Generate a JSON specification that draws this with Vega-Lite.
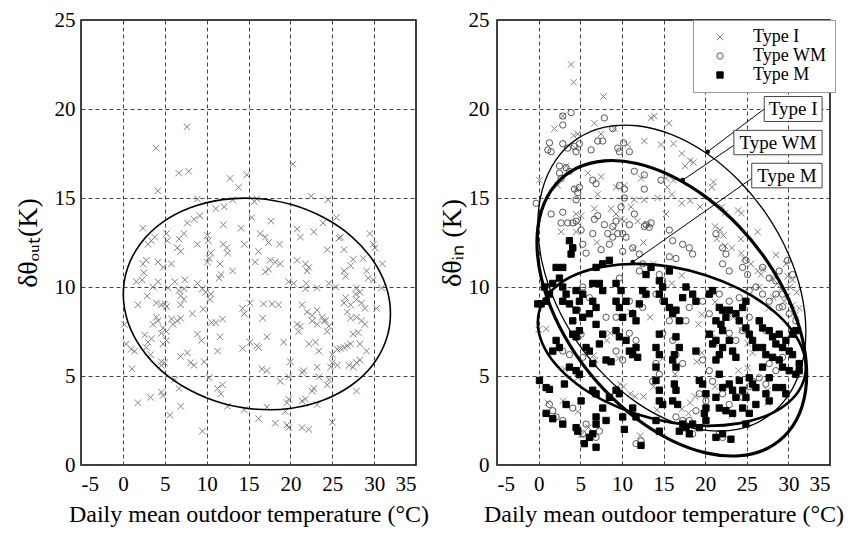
{
"$schema": "https://vega.github.io/schema/vega-lite/v6.json",
"padding": {"left": 13, "top": 8, "right": 5, "bottom": 5},
"background": "white",
"config": {
  "font": "Liberation Serif",
  "view": {"stroke": "black", "strokeWidth": 1.5},
  "axis": {"grid": true, "gridColor": "#444444", "gridDash": [4, 3], "gridWidth": 1, "ticks": false, "domain": false,
           "labelFont": "Liberation Serif", "labelFontSize": 21, "labelColor": "black",
           "titleFont": "Liberation Serif", "titleColor": "black", "titleFontWeight": "normal"},
  "axisX": {"labelPadding": 8, "titleFontSize": 24, "titlePadding": 8},
  "axisY": {"labelPadding": 6, "titleFontSize": 28},
  "legend": {"orient": "none", "legendX": 612, "legendY": 0, "strokeColor": "#999999", "fillColor": "white", "padding": 8,
             "labelFont": "Liberation Serif", "labelFontSize": 18, "labelColor": "black", "symbolStrokeWidth": 1,
             "symbolSize": 40, "rowPadding": 1, "labelOffset": 24, "symbolOffset": 10, "labelLimit": 200}
},
"datasets": {
  "left": [
    {"x":7.66,"y":19.0},{"x":3.97,"y":17.8},{"x":6.67,"y":16.4},{"x":7.86,"y":16.5},{"x":12.8,"y":16.1},{"x":13.8,"y":15.6},{"x":14.8,"y":16.3},{"x":4.17,"y":15.4},{"x":8.9,"y":14.95},{"x":13.1,"y":14.9},{"x":11.1,"y":14.4},{"x":12.1,"y":14.5},{"x":8.5,"y":13.8},{"x":7.7,"y":13.6},{"x":9.2,"y":14.0},{"x":2.4,"y":13.3},{"x":3.4,"y":12.6},{"x":3.0,"y":12.4},{"x":3.8,"y":12.8},{"x":5.2,"y":13.0},{"x":5.3,"y":12.6},{"x":6.7,"y":12.7},{"x":7.3,"y":13.0},{"x":6.5,"y":12.2},{"x":6.9,"y":12.0},{"x":8.9,"y":12.4},{"x":10.1,"y":12.9},{"x":10.2,"y":12.6},{"x":10.5,"y":11.9},{"x":12.0,"y":13.5},{"x":12.0,"y":12.4},{"x":12.4,"y":12.2},{"x":12.5,"y":11.9},{"x":14.1,"y":13.3},{"x":14.5,"y":12.4},{"x":2.8,"y":11.5},{"x":2.4,"y":11.3},{"x":4.2,"y":11.4},{"x":4.8,"y":11.1},{"x":5.8,"y":11.3},{"x":10.1,"y":11.4},{"x":10.3,"y":11.6},{"x":11.6,"y":11.3},{"x":11.7,"y":10.7},{"x":11.5,"y":10.5},{"x":13.1,"y":10.9},{"x":1.6,"y":10.3},{"x":2.3,"y":10.4},{"x":2.5,"y":10.8},{"x":4.2,"y":10.3},{"x":3.6,"y":10.0},{"x":5.4,"y":9.95},{"x":6.2,"y":10.3},{"x":6.7,"y":9.8},{"x":6.9,"y":9.5},{"x":7.3,"y":9.9},{"x":7.4,"y":10.4},{"x":8.9,"y":10.2},{"x":9.5,"y":9.9},{"x":9.9,"y":9.7},{"x":10.5,"y":9.6},{"x":10.4,"y":9.3},{"x":1.8,"y":9.0},{"x":2.9,"y":9.5},{"x":4.0,"y":9.1},{"x":4.6,"y":9.0},{"x":5.0,"y":9.05},{"x":5.2,"y":8.9},{"x":6.9,"y":9.0},{"x":7.3,"y":9.3},{"x":8.3,"y":8.5},{"x":9.6,"y":8.75},{"x":14.3,"y":8.8},{"x":14.5,"y":8.5},{"x":4.0,"y":8.3},{"x":3.6,"y":7.9},{"x":4.2,"y":8.1},{"x":4.8,"y":7.7},{"x":4.6,"y":7.4},{"x":5.2,"y":7.5},{"x":6.0,"y":7.9},{"x":6.5,"y":8.1},{"x":6.9,"y":8.25},{"x":2.6,"y":7.3},{"x":3.4,"y":7.1},{"x":3.0,"y":6.9},{"x":4.8,"y":6.8},{"x":5.2,"y":7.0},{"x":5.8,"y":8.2},{"x":10.6,"y":8.0},{"x":11.1,"y":8.0},{"x":11.9,"y":8.2},{"x":11.6,"y":7.2},{"x":8.9,"y":7.35},{"x":9.4,"y":7.0},{"x":0.2,"y":7.9},{"x":0.4,"y":6.8},{"x":1.0,"y":6.5},{"x":1.4,"y":6.4},{"x":2.8,"y":6.6},{"x":3.3,"y":6.2},{"x":4.6,"y":5.8},{"x":4.6,"y":5.6},{"x":5.0,"y":5.75},{"x":6.9,"y":6.1},{"x":7.7,"y":6.3},{"x":8.1,"y":5.75},{"x":8.5,"y":5.6},{"x":9.7,"y":5.8},{"x":11.3,"y":6.4},{"x":14.3,"y":6.55},{"x":1.1,"y":5.4},{"x":6.2,"y":4.8},{"x":6.7,"y":4.3},{"x":10.3,"y":4.9},{"x":11.3,"y":4.3},{"x":11.9,"y":4.5},{"x":11.7,"y":4.0},{"x":1.8,"y":3.5},{"x":3.3,"y":3.8},{"x":4.6,"y":4.1},{"x":4.8,"y":3.9},{"x":5.6,"y":2.8},{"x":6.9,"y":3.3},{"x":12.5,"y":3.3},{"x":14.5,"y":3.1},{"x":9.5,"y":1.9},
    {"x":20.3,"y":16.9},{"x":22.5,"y":15.1},{"x":24.5,"y":14.9},{"x":15.7,"y":14.8},{"x":16.0,"y":14.95},{"x":15.4,"y":13.9},{"x":17.7,"y":13.7},{"x":25.5,"y":13.9},{"x":16.4,"y":13.0},{"x":17.0,"y":12.8},{"x":17.4,"y":12.5},{"x":18.7,"y":12.4},{"x":20.8,"y":13.25},{"x":21.2,"y":12.8},{"x":22.8,"y":13.1},{"x":23.9,"y":13.6},{"x":25.8,"y":12.75},{"x":26.0,"y":12.8},{"x":24.4,"y":12.1},{"x":26.4,"y":12.1},{"x":29.5,"y":13.0},{"x":29.9,"y":12.4},{"x":30.1,"y":12.2},{"x":16.2,"y":12.0},{"x":15.8,"y":11.4},{"x":17.6,"y":11.5},{"x":18.2,"y":11.4},{"x":18.8,"y":11.3},{"x":17.4,"y":11.0},{"x":17.0,"y":10.85},{"x":20.8,"y":11.5},{"x":21.8,"y":11.3},{"x":22.0,"y":10.9},{"x":22.2,"y":11.1},{"x":26.4,"y":10.9},{"x":26.6,"y":10.6},{"x":27.5,"y":11.55},{"x":27.2,"y":11.2},{"x":28.7,"y":11.6},{"x":29.1,"y":10.9},{"x":29.3,"y":10.5},{"x":29.9,"y":10.4},{"x":31.0,"y":11.3},{"x":19.8,"y":10.3},{"x":20.4,"y":10.2},{"x":21.9,"y":10.2},{"x":21.8,"y":9.9},{"x":23.2,"y":9.95},{"x":24.6,"y":10.2},{"x":25.4,"y":10.0},{"x":27.9,"y":9.95},{"x":28.3,"y":9.7},{"x":30.9,"y":9.95},{"x":15.2,"y":9.1},{"x":16.8,"y":9.05},{"x":17.8,"y":9.05},{"x":18.6,"y":9.0},{"x":21.4,"y":9.0},{"x":22.0,"y":8.6},{"x":22.6,"y":8.4},{"x":23.2,"y":8.7},{"x":23.8,"y":8.3},{"x":24.2,"y":8.1},{"x":24.6,"y":7.8},{"x":26.6,"y":9.4},{"x":26.4,"y":9.1},{"x":27.2,"y":9.0},{"x":27.8,"y":9.6},{"x":27.9,"y":9.3},{"x":28.5,"y":9.1},{"x":28.9,"y":8.8},{"x":30.3,"y":8.8},{"x":16.7,"y":8.25},{"x":20.8,"y":7.9},{"x":21.2,"y":7.8},{"x":21.0,"y":7.5},{"x":22.6,"y":8.1},{"x":23.2,"y":7.9},{"x":24.0,"y":8.1},{"x":24.4,"y":7.5},{"x":26.8,"y":8.6},{"x":27.2,"y":8.25},{"x":27.9,"y":8.3},{"x":28.5,"y":8.1},{"x":28.9,"y":7.9},{"x":28.1,"y":7.45},{"x":27.5,"y":7.35},{"x":15.2,"y":6.9},{"x":16.2,"y":6.6},{"x":16.0,"y":6.7},{"x":17.2,"y":7.2},{"x":19.2,"y":6.9},{"x":22.2,"y":6.8},{"x":23.0,"y":6.9},{"x":23.4,"y":6.4},{"x":25.0,"y":6.2},{"x":25.6,"y":6.5},{"x":26.0,"y":6.55},{"x":26.4,"y":6.6},{"x":26.8,"y":6.7},{"x":27.2,"y":6.8},{"x":28.3,"y":6.8},{"x":29.1,"y":6.4},{"x":28.3,"y":5.9},{"x":27.9,"y":5.75},{"x":20.0,"y":5.8},{"x":25.0,"y":5.75},{"x":24.8,"y":5.5},{"x":25.6,"y":5.6},{"x":27.0,"y":5.6},{"x":27.5,"y":5.5},{"x":16.6,"y":5.4},{"x":17.2,"y":5.3},{"x":18.8,"y":4.7},{"x":19.8,"y":4.95},{"x":21.6,"y":5.3},{"x":21.4,"y":5.2},{"x":23.2,"y":5.5},{"x":23.4,"y":4.95},{"x":24.6,"y":4.8},{"x":24.4,"y":4.5},{"x":22.8,"y":4.3},{"x":22.6,"y":4.15},{"x":27.9,"y":4.15},{"x":19.8,"y":3.7},{"x":19.6,"y":3.5},{"x":21.4,"y":3.6},{"x":21.8,"y":3.7},{"x":23.2,"y":3.4},{"x":16.2,"y":2.6},{"x":18.2,"y":2.35},{"x":19.6,"y":2.25},{"x":19.8,"y":2.1},{"x":21.4,"y":2.1},{"x":22.2,"y":2.0},{"x":25.0,"y":2.4},{"x":19.4,"y":3.0},{"x":17.2,"y":3.25}
  ],
  "ellL": [
    {"i":0,"x":31.95,"y":8.50},{"i":1,"x":31.41,"y":10.05},{"i":2,"x":29.81,"y":11.53},{"i":3,"x":27.28,"y":12.85},{"i":4,"x":23.98,"y":13.90},{"i":5,"x":20.13,"y":14.63},{"i":6,"x":16.0,"y":14.97},{"i":7,"x":11.87,"y":14.91},{"i":8,"x":8.03,"y":14.45},{"i":9,"x":4.72,"y":13.63},{"i":10,"x":2.19,"y":12.49},{"i":11,"x":0.59,"y":11.11},{"i":12,"x":0.05,"y":9.60},{"i":13,"x":0.59,"y":8.05},{"i":14,"x":2.19,"y":6.57},{"i":15,"x":4.72,"y":5.25},{"i":16,"x":8.03,"y":4.20},{"i":17,"x":11.87,"y":3.47},{"i":18,"x":16.0,"y":3.13},{"i":19,"x":20.13,"y":3.19},{"i":20,"x":23.98,"y":3.65},{"i":21,"x":27.28,"y":4.48},{"i":22,"x":29.81,"y":5.61},{"i":23,"x":31.41,"y":6.99}
  ],
  "eI": [
    {"i":0,"x":32.1,"y":7.5},{"i":1,"x":31.55,"y":9.69},{"i":2,"x":29.94,"y":11.93},{"i":3,"x":27.38,"y":14.08},{"i":4,"x":24.05,"y":15.98},{"i":5,"x":20.17,"y":17.51},{"i":6,"x":16.0,"y":18.56},{"i":7,"x":11.83,"y":19.06},{"i":8,"x":7.95,"y":18.98},{"i":9,"x":4.62,"y":18.32},{"i":10,"x":2.06,"y":17.13},{"i":11,"x":0.45,"y":15.48},{"i":12,"x":-0.1,"y":13.5},{"i":13,"x":0.45,"y":11.31},{"i":14,"x":2.06,"y":9.07},{"i":15,"x":4.62,"y":6.92},{"i":16,"x":7.95,"y":5.02},{"i":17,"x":11.83,"y":3.49},{"i":18,"x":16.0,"y":2.44},{"i":19,"x":20.17,"y":1.94},{"i":20,"x":24.05,"y":2.02},{"i":21,"x":27.38,"y":2.68},{"i":22,"x":29.94,"y":3.87},{"i":23,"x":31.55,"y":5.52}
  ],
  "eWM": [
    {"i":0,"x":32.2,"y":5.1},{"i":1,"x":31.65,"y":7.15},{"i":2,"x":30.03,"y":9.31},{"i":3,"x":27.46,"y":11.44},{"i":4,"x":24.1,"y":13.39},{"i":5,"x":20.19,"y":15.02},{"i":6,"x":16.0,"y":16.23},{"i":7,"x":11.81,"y":16.94},{"i":8,"x":7.9,"y":17.09},{"i":9,"x":4.54,"y":16.67},{"i":10,"x":1.97,"y":15.72},{"i":11,"x":0.35,"y":14.30},{"i":12,"x":-0.2,"y":12.5},{"i":13,"x":0.35,"y":10.45},{"i":14,"x":1.97,"y":8.29},{"i":15,"x":4.54,"y":6.16},{"i":16,"x":7.9,"y":4.22},{"i":17,"x":11.81,"y":2.58},{"i":18,"x":16.0,"y":1.37},{"i":19,"x":20.19,"y":0.67},{"i":20,"x":24.1,"y":0.52},{"i":21,"x":27.46,"y":0.93},{"i":22,"x":30.03,"y":1.88},{"i":23,"x":31.65,"y":3.30}
  ],
  "eM": [
    {"i":0,"x":32.1,"y":5.5},{"i":1,"x":31.55,"y":6.67},{"i":2,"x":29.94,"y":7.86},{"i":3,"x":27.38,"y":8.96},{"i":4,"x":24.05,"y":9.91},{"i":5,"x":20.17,"y":10.65},{"i":6,"x":16.0,"y":11.13},{"i":7,"x":11.83,"y":11.30},{"i":8,"x":7.95,"y":11.16},{"i":9,"x":4.62,"y":10.73},{"i":10,"x":2.06,"y":10.02},{"i":11,"x":0.45,"y":9.09},{"i":12,"x":-0.1,"y":8.0},{"i":13,"x":0.45,"y":6.83},{"i":14,"x":2.06,"y":5.65},{"i":15,"x":4.62,"y":4.54},{"i":16,"x":7.95,"y":3.59},{"i":17,"x":11.83,"y":2.85},{"i":18,"x":16.0,"y":2.38},{"i":19,"x":20.17,"y":2.20},{"i":20,"x":24.05,"y":2.34},{"i":21,"x":27.38,"y":2.77},{"i":22,"x":29.94,"y":3.48},{"i":23,"x":31.55,"y":4.41}
  ],
  "leaders": [
    {"x":27.1,"y":20.0,"ex":20.3,"ey":17.6},
    {"x":23.45,"y":17.96,"ex":17.3,"ey":16.0},
    {"x":25.6,"y":16.1,"ex":11.3,"ey":11.4}
  ],
  "boxes": [
    {"lab":"Type I","x1":27.1,"x2":34.05,"y1":19.3,"y2":20.7,"cx":30.58,"cy":20.0},
    {"lab":"Type WM","x1":23.45,"x2":34.05,"y1":17.43,"y2":18.8,"cx":28.75,"cy":18.1},
    {"lab":"Type M","x1":25.6,"x2":34.05,"y1":15.57,"y2":16.95,"cx":29.83,"cy":16.26}
  ],
  "right": [
    {"g":"Type I","x":3.9,"y":22.5},{"g":"Type I","x":4.2,"y":21.5},{"g":"Type I","x":7.8,"y":20.7},{"g":"Type I","x":2.9,"y":19.6},{"g":"Type I","x":1.9,"y":18.9},{"g":"Type I","x":4.7,"y":18.6},{"g":"Type I","x":4.2,"y":18.5},{"g":"Type I","x":6.7,"y":19.2},{"g":"Type I","x":9.1,"y":18.9},{"g":"Type I","x":12.7,"y":18.2},{"g":"Type I","x":13.5,"y":19.5},{"g":"Type I","x":13.9,"y":19.6},{"g":"Type I","x":14.7,"y":18.0},{"g":"Type I","x":7.5,"y":18.6},{"g":"Type I","x":10.7,"y":18.0},{"g":"Type I","x":4.4,"y":17.8},{"g":"Type I","x":0.1,"y":16.0},{"g":"Type I","x":3.3,"y":16.8},{"g":"Type I","x":5.9,"y":16.4},{"g":"Type I","x":7.5,"y":16.2},{"g":"Type I","x":2.3,"y":15.7},{"g":"Type I","x":4.5,"y":15.5},{"g":"Type I","x":7.1,"y":15.2},{"g":"Type I","x":9.3,"y":15.6},{"g":"Type I","x":10.3,"y":15.7},{"g":"Type I","x":12.3,"y":16.1},{"g":"Type I","x":12.7,"y":14.9},{"g":"Type I","x":11.5,"y":14.9},{"g":"Type I","x":14.3,"y":15.0},{"g":"Type I","x":4.5,"y":14.1},{"g":"Type I","x":5.1,"y":14.0},{"g":"Type I","x":6.7,"y":14.4},{"g":"Type I","x":8.7,"y":14.4},{"g":"Type I","x":9.3,"y":14.1},{"g":"Type I","x":9.9,"y":13.8},{"g":"Type I","x":10.3,"y":13.7},{"g":"Type I","x":11.1,"y":14.5},{"g":"Type I","x":11.9,"y":13.7},{"g":"Type I","x":2.7,"y":13.1},{"g":"Type I","x":4.5,"y":13.1},{"g":"Type I","x":9.1,"y":13.3},{"g":"Type I","x":13.1,"y":13.5},{"g":"Type I","x":4.7,"y":13.6},{"g":"Type I","x":15.3,"y":14.1},
    {"g":"Type I","x":15.65,"y":19.2},{"g":"Type I","x":16.2,"y":18.05},{"g":"Type I","x":17.2,"y":17.5},{"g":"Type I","x":18.2,"y":17.1},{"g":"Type I","x":18.6,"y":17.0},{"g":"Type I","x":17.6,"y":16.8},{"g":"Type I","x":15.3,"y":16.1},{"g":"Type I","x":16.2,"y":16.0},{"g":"Type I","x":16.0,"y":15.2},{"g":"Type I","x":15.45,"y":15.6},{"g":"Type I","x":18.2,"y":14.85},{"g":"Type I","x":17.2,"y":14.7},{"g":"Type I","x":21.0,"y":15.9},{"g":"Type I","x":20.8,"y":15.6},{"g":"Type I","x":19.4,"y":14.5},{"g":"Type I","x":22.0,"y":14.5},{"g":"Type I","x":22.4,"y":14.15},{"g":"Type I","x":23.95,"y":14.3},{"g":"Type I","x":24.35,"y":14.15},{"g":"Type I","x":21.2,"y":13.4},{"g":"Type I","x":21.8,"y":13.2},{"g":"Type I","x":22.2,"y":12.9},{"g":"Type I","x":26.3,"y":13.1},{"g":"Type I","x":21.4,"y":12.7},{"g":"Type I","x":24.3,"y":12.7},
    {"g":"Type I","x":22.4,"y":12.3},{"g":"Type I","x":23.2,"y":12.2},{"g":"Type I","x":24.35,"y":11.9},{"g":"Type I","x":24.7,"y":11.6},{"g":"Type I","x":25.5,"y":11.3},{"g":"Type I","x":26.3,"y":10.9},{"g":"Type I","x":26.7,"y":10.7},{"g":"Type I","x":28.5,"y":11.8},{"g":"Type I","x":29.7,"y":11.3},{"g":"Type I","x":29.9,"y":10.6},{"g":"Type I","x":28.7,"y":10.2},{"g":"Type I","x":29.1,"y":9.9},{"g":"Type I","x":29.9,"y":9.5},{"g":"Type I","x":30.5,"y":8.98},{"g":"Type I","x":30.9,"y":8.45},{"g":"Type I","x":20.8,"y":9.7},{"g":"Type I","x":21.2,"y":9.15},{"g":"Type I","x":21.8,"y":8.9},{"g":"Type I","x":22.8,"y":8.45},{"g":"Type I","x":23.4,"y":8.3},{"g":"Type I","x":19.6,"y":8.45},{"g":"Type I","x":19.2,"y":7.9},{"g":"Type I","x":17.2,"y":10.65},{"g":"Type I","x":16.0,"y":10.2},{"g":"Type I","x":24.35,"y":7.6},{"g":"Type I","x":25.1,"y":6.85},{"g":"Type I","x":25.7,"y":6.3},{"g":"Type I","x":20.8,"y":7.4},{"g":"Type I","x":21.2,"y":6.85},{"g":"Type I","x":19.6,"y":6.3},{"g":"Type I","x":19.0,"y":5.8},{"g":"Type I","x":24.0,"y":5.3},{"g":"Type I","x":25.1,"y":5.45},{"g":"Type I","x":25.9,"y":4.6},{"g":"Type I","x":21.2,"y":4.4},{"g":"Type I","x":22.6,"y":4.4},{"g":"Type I","x":18.8,"y":3.85},{"g":"Type I","x":18.2,"y":3.5},{"g":"Type I","x":17.2,"y":3.15},{"g":"Type I","x":18.0,"y":2.9},{"g":"Type I","x":23.2,"y":2.8},{"g":"Type I","x":27.5,"y":4.2},{"g":"Type I","x":27.5,"y":3.5},{"g":"Type I","x":16.4,"y":5.1},{"g":"Type I","x":14.9,"y":6.0},
    {"g":"Type I","x":0.9,"y":7.65},{"g":"Type I","x":3.1,"y":5.4},{"g":"Type I","x":4.7,"y":4.9},{"g":"Type I","x":6.6,"y":6.15},{"g":"Type I","x":6.8,"y":5.9},{"g":"Type I","x":8.6,"y":7.4},{"g":"Type I","x":9.6,"y":6.0},{"g":"Type I","x":9.8,"y":4.55},{"g":"Type I","x":10.2,"y":4.4},{"g":"Type I","x":11.0,"y":4.0},{"g":"Type I","x":11.6,"y":3.85},{"g":"Type I","x":1.1,"y":3.5},{"g":"Type I","x":2.9,"y":3.6},{"g":"Type I","x":4.7,"y":3.0},{"g":"Type I","x":5.1,"y":1.7},{"g":"Type I","x":6.0,"y":2.1},{"g":"Type I","x":7.0,"y":2.3},{"g":"Type I","x":12.6,"y":3.85},{"g":"Type I","x":13.8,"y":4.4},{"g":"Type I","x":14.2,"y":3.1},{"g":"Type I","x":12.2,"y":1.65},{"g":"Type I","x":9.8,"y":8.3},{"g":"Type I","x":11.0,"y":8.6},{"g":"Type I","x":13.4,"y":8.3},{"g":"Type I","x":8.2,"y":7.0},{"g":"Type I","x":12.6,"y":9.5},{"g":"Type I","x":13.8,"y":11.3},{"g":"Type I","x":7.0,"y":12.5},{"g":"Type I","x":11.4,"y":12.15},{"g":"Type I","x":12.6,"y":12.5},{"g":"Type I","x":0.0,"y":7.6},{"g":"Type I","x":27.0,"y":11.0},{"g":"Type I","x":28.0,"y":10.5},{"g":"Type I","x":26.5,"y":10.0},{"g":"Type I","x":30.5,"y":10.4},{"g":"Type I","x":31.0,"y":9.7},{"g":"Type I","x":29.5,"y":9.2},{"g":"Type I","x":28.2,"y":9.4},{"g":"Type I","x":27.6,"y":8.8},{"g":"Type I","x":30.2,"y":10.0},{"g":"Type I","x":31.3,"y":8.8},
    {"g":"Type WM","x":2.9,"y":19.1},{"g":"Type WM","x":2.9,"y":19.6},{"g":"Type WM","x":3.9,"y":19.8},{"g":"Type WM","x":1.3,"y":18.1},{"g":"Type WM","x":1.5,"y":17.6},{"g":"Type WM","x":1.1,"y":17.7},{"g":"Type WM","x":2.9,"y":18.05},{"g":"Type WM","x":3.5,"y":17.8},{"g":"Type WM","x":4.9,"y":18.05},{"g":"Type WM","x":4.5,"y":17.6},{"g":"Type WM","x":4.3,"y":17.9},{"g":"Type WM","x":7.1,"y":18.2},{"g":"Type WM","x":7.7,"y":18.2},{"g":"Type WM","x":7.9,"y":19.5},{"g":"Type WM","x":8.9,"y":18.9},{"g":"Type WM","x":9.5,"y":17.8},{"g":"Type WM","x":9.7,"y":17.6},{"g":"Type WM","x":10.9,"y":17.6},{"g":"Type WM","x":10.2,"y":18.1},{"g":"Type WM","x":6.3,"y":17.7},{"g":"Type WM","x":2.5,"y":16.8},{"g":"Type WM","x":3.3,"y":16.7},{"g":"Type WM","x":3.7,"y":16.5},{"g":"Type WM","x":2.5,"y":16.4},{"g":"Type WM","x":2.7,"y":16.1},{"g":"Type WM","x":4.3,"y":15.5},{"g":"Type WM","x":4.9,"y":15.6},{"g":"Type WM","x":4.7,"y":15.3},{"g":"Type WM","x":6.5,"y":16.0},{"g":"Type WM","x":6.9,"y":15.8},{"g":"Type WM","x":4.5,"y":14.9},{"g":"Type WM","x":9.7,"y":15.7},{"g":"Type WM","x":10.3,"y":15.5},{"g":"Type WM","x":11.5,"y":16.5},{"g":"Type WM","x":12.7,"y":16.3},{"g":"Type WM","x":12.7,"y":15.5},{"g":"Type WM","x":14.7,"y":16.0},{"g":"Type WM","x":9.9,"y":14.5},{"g":"Type WM","x":10.3,"y":15.0},{"g":"Type WM","x":6.7,"y":13.8},{"g":"Type WM","x":7.1,"y":14.0},{"g":"Type WM","x":2.9,"y":14.2},{"g":"Type WM","x":2.7,"y":13.6},{"g":"Type WM","x":3.5,"y":13.6},{"g":"Type WM","x":4.1,"y":13.6},{"g":"Type WM","x":4.5,"y":13.7},{"g":"Type WM","x":7.9,"y":13.5},{"g":"Type WM","x":8.9,"y":13.4},{"g":"Type WM","x":9.3,"y":13.7},{"g":"Type WM","x":10.9,"y":13.5},{"g":"Type WM","x":11.5,"y":14.1},{"g":"Type WM","x":12.7,"y":13.4},{"g":"Type WM","x":13.5,"y":13.6},{"g":"Type WM","x":8.3,"y":13.0},{"g":"Type WM","x":8.9,"y":12.8},{"g":"Type WM","x":10.5,"y":12.8},{"g":"Type WM","x":1.5,"y":14.1},{"g":"Type WM","x":-0.3,"y":14.7},
    {"g":"Type WM","x":5.1,"y":13.2},{"g":"Type WM","x":6.5,"y":13.0},{"g":"Type WM","x":4.1,"y":12.2},{"g":"Type WM","x":5.3,"y":12.4},{"g":"Type WM","x":5.7,"y":11.9},{"g":"Type WM","x":7.5,"y":12.1},{"g":"Type WM","x":8.5,"y":12.4},{"g":"Type WM","x":9.5,"y":13.0},{"g":"Type WM","x":10.1,"y":13.0},{"g":"Type WM","x":10.1,"y":12.0},{"g":"Type WM","x":11.3,"y":12.2},{"g":"Type WM","x":12.1,"y":11.85},{"g":"Type WM","x":12.9,"y":13.5},{"g":"Type WM","x":13.3,"y":13.35},{"g":"Type WM","x":15.7,"y":13.2},{"g":"Type WM","x":16.1,"y":12.6},{"g":"Type WM","x":17.3,"y":12.4},{"g":"Type WM","x":18.1,"y":12.2},{"g":"Type WM","x":15.7,"y":11.7},{"g":"Type WM","x":16.5,"y":11.6},{"g":"Type WM","x":18.5,"y":11.85},{"g":"Type WM","x":12.5,"y":11.3},{"g":"Type WM","x":12.1,"y":10.9},{"g":"Type WM","x":14.5,"y":10.7},{"g":"Type WM","x":14.9,"y":10.35},{"g":"Type WM","x":21.3,"y":13.0},{"g":"Type WM","x":22.1,"y":12.2},{"g":"Type WM","x":22.5,"y":11.85},{"g":"Type WM","x":22.1,"y":11.3},{"g":"Type WM","x":22.9,"y":10.9},{"g":"Type WM","x":24.9,"y":11.5},{"g":"Type WM","x":25.1,"y":10.7},{"g":"Type WM","x":24.5,"y":11.1},{"g":"Type WM","x":26.9,"y":11.1},{"g":"Type WM","x":27.7,"y":10.5},{"g":"Type WM","x":28.5,"y":10.35},{"g":"Type WM","x":28.9,"y":10.9},{"g":"Type WM","x":29.9,"y":11.5},{"g":"Type WM","x":30.5,"y":10.7},{"g":"Type WM","x":26.1,"y":10.0},{"g":"Type WM","x":26.9,"y":9.6},{"g":"Type WM","x":27.7,"y":9.2},{"g":"Type WM","x":28.5,"y":9.6},{"g":"Type WM","x":29.3,"y":8.9},{"g":"Type WM","x":30.1,"y":8.5},{"g":"Type WM","x":30.9,"y":8.1},{"g":"Type WM","x":21.7,"y":9.6},{"g":"Type WM","x":22.9,"y":9.2},{"g":"Type WM","x":24.1,"y":9.4},{"g":"Type WM","x":25.3,"y":9.8},{"g":"Type WM","x":19.7,"y":9.2},{"g":"Type WM","x":20.5,"y":8.5},{"g":"Type WM","x":18.1,"y":8.85},{"g":"Type WM","x":17.7,"y":8.1},{"g":"Type WM","x":15.7,"y":8.1},{"g":"Type WM","x":14.9,"y":7.4},{"g":"Type WM","x":16.1,"y":7.0},{"g":"Type WM","x":14.1,"y":5.7},{"g":"Type WM","x":14.5,"y":5.1},{"g":"Type WM","x":13.7,"y":4.7},{"g":"Type WM","x":16.5,"y":6.2},{"g":"Type WM","x":17.3,"y":5.7},{"g":"Type WM","x":19.7,"y":5.9},{"g":"Type WM","x":20.5,"y":5.3},{"g":"Type WM","x":20.9,"y":4.7},{"g":"Type WM","x":19.3,"y":4.0},{"g":"Type WM","x":20.1,"y":3.6},{"g":"Type WM","x":18.9,"y":3.05},{"g":"Type WM","x":18.1,"y":2.5},{"g":"Type WM","x":18.5,"y":1.75},{"g":"Type WM","x":16.5,"y":2.7},{"g":"Type WM","x":17.3,"y":2.5},{"g":"Type WM","x":22.1,"y":4.0},{"g":"Type WM","x":22.9,"y":3.4},{"g":"Type WM","x":24.5,"y":3.8},{"g":"Type WM","x":25.3,"y":4.4},{"g":"Type WM","x":25.7,"y":4.7},{"g":"Type WM","x":26.5,"y":4.9},{"g":"Type WM","x":27.3,"y":4.55},{"g":"Type WM","x":27.7,"y":5.7},{"g":"Type WM","x":28.5,"y":5.3},{"g":"Type WM","x":29.3,"y":6.05},{"g":"Type WM","x":22.9,"y":7.4},{"g":"Type WM","x":23.7,"y":7.0},{"g":"Type WM","x":24.5,"y":7.55},{"g":"Type WM","x":25.3,"y":8.3},{"g":"Type WM","x":26.5,"y":8.1},{"g":"Type WM","x":27.3,"y":7.55},{"g":"Type WM","x":21.7,"y":1.75},{"g":"Type WM","x":22.1,"y":1.55},{"g":"Type WM","x":11.7,"y":1.2},{"g":"Type WM","x":12.3,"y":1.35},{"g":"Type WM","x":7.3,"y":1.9},{"g":"Type WM","x":6.9,"y":1.55},{"g":"Type WM","x":5.3,"y":1.75},{"g":"Type WM","x":5.7,"y":2.3},{"g":"Type WM","x":1.7,"y":3.05},{"g":"Type WM","x":2.1,"y":2.7},{"g":"Type WM","x":2.9,"y":2.5},{"g":"Type WM","x":1.3,"y":3.4},{"g":"Type WM","x":4.1,"y":3.2},{"g":"Type WM","x":5.3,"y":6.05},{"g":"Type WM","x":5.1,"y":7.35},{"g":"Type WM","x":8.1,"y":8.3},{"g":"Type WM","x":9.3,"y":8.3},{"g":"Type WM","x":10.9,"y":7.4},{"g":"Type WM","x":11.7,"y":7.0},{"g":"Type WM","x":9.3,"y":6.4},{"g":"Type WM","x":10.1,"y":5.9},{"g":"Type WM","x":10.9,"y":9.2},{"g":"Type WM","x":12.5,"y":8.85},{"g":"Type WM","x":14.1,"y":9.6},{"g":"Type WM","x":14.9,"y":9.2},{"g":"Type WM","x":9.7,"y":10.5},{"g":"Type WM","x":7.7,"y":9.8},{"g":"Type WM","x":5.3,"y":10.0},{"g":"Type WM","x":6.1,"y":9.4},{"g":"Type WM","x":2.9,"y":6.4},{"g":"Type WM","x":3.7,"y":6.2},{"g":"Type WM","x":28.9,"y":8.85},{"g":"Type WM","x":29.3,"y":9.6},
    {"g":"Type M","x":3.7,"y":12.6},{"g":"Type M","x":4.1,"y":12.2},{"g":"Type M","x":3.9,"y":11.85},{"g":"Type M","x":2.1,"y":11.1},{"g":"Type M","x":2.9,"y":11.1},{"g":"Type M","x":2.5,"y":10.5},{"g":"Type M","x":1.7,"y":10.2},{"g":"Type M","x":0.7,"y":10.0},{"g":"Type M","x":1.3,"y":9.6},{"g":"Type M","x":0.9,"y":9.2},{"g":"Type M","x":0.3,"y":9.05},{"g":"Type M","x":-0.1,"y":9.05},{"g":"Type M","x":2.9,"y":10.0},{"g":"Type M","x":3.3,"y":9.6},{"g":"Type M","x":2.9,"y":9.2},{"g":"Type M","x":3.7,"y":9.05},{"g":"Type M","x":4.5,"y":9.8},{"g":"Type M","x":5.3,"y":9.6},{"g":"Type M","x":4.9,"y":9.2},{"g":"Type M","x":4.5,"y":8.7},{"g":"Type M","x":5.3,"y":8.3},{"g":"Type M","x":4.1,"y":8.1},{"g":"Type M","x":4.9,"y":7.55},{"g":"Type M","x":4.1,"y":7.35},{"g":"Type M","x":4.5,"y":7.2},{"g":"Type M","x":2.1,"y":7.0},{"g":"Type M","x":2.5,"y":6.6},{"g":"Type M","x":1.7,"y":6.4},{"g":"Type M","x":5.7,"y":6.6},{"g":"Type M","x":6.1,"y":6.4},{"g":"Type M","x":3.7,"y":5.5},{"g":"Type M","x":4.5,"y":5.3},{"g":"Type M","x":4.9,"y":5.1},{"g":"Type M","x":0.1,"y":4.75},{"g":"Type M","x":0.9,"y":4.35},{"g":"Type M","x":1.3,"y":4.25},{"g":"Type M","x":3.1,"y":4.55},{"g":"Type M","x":0.9,"y":2.9},{"g":"Type M","x":1.7,"y":2.6},{"g":"Type M","x":2.9,"y":2.3},{"g":"Type M","x":3.3,"y":3.4},{"g":"Type M","x":5.1,"y":3.6},{"g":"Type M","x":4.5,"y":2.1},{"g":"Type M","x":4.7,"y":1.9},{"g":"Type M","x":5.5,"y":1.2},{"g":"Type M","x":6.1,"y":1.55},{"g":"Type M","x":6.5,"y":1.75},{"g":"Type M","x":6.9,"y":1.0},{"g":"Type M","x":6.9,"y":2.3},{"g":"Type M","x":6.9,"y":2.7},{"g":"Type M","x":6.5,"y":4.2},{"g":"Type M","x":6.9,"y":4.0},{"g":"Type M","x":7.7,"y":3.2},{"g":"Type M","x":8.1,"y":2.5},{"g":"Type M","x":8.5,"y":3.8},{"g":"Type M","x":9.3,"y":4.2},{"g":"Type M","x":9.7,"y":4.0},{"g":"Type M","x":10.1,"y":2.7},{"g":"Type M","x":10.3,"y":2.0},{"g":"Type M","x":11.3,"y":3.2},{"g":"Type M","x":11.7,"y":2.7},{"g":"Type M","x":12.3,"y":1.1},{"g":"Type M","x":6.9,"y":11.1},{"g":"Type M","x":7.7,"y":11.3},{"g":"Type M","x":8.5,"y":11.5},{"g":"Type M","x":6.5,"y":10.2},{"g":"Type M","x":7.3,"y":10.2},{"g":"Type M","x":7.7,"y":9.8},{"g":"Type M","x":6.5,"y":9.2},{"g":"Type M","x":6.9,"y":8.85},{"g":"Type M","x":6.1,"y":8.5},{"g":"Type M","x":6.9,"y":7.9},{"g":"Type M","x":7.7,"y":7.35},{"g":"Type M","x":7.3,"y":6.8},{"g":"Type M","x":6.5,"y":5.7},{"g":"Type M","x":8.1,"y":5.9},{"g":"Type M","x":8.7,"y":5.8},{"g":"Type M","x":9.3,"y":10.2},{"g":"Type M","x":9.9,"y":9.8},{"g":"Type M","x":10.5,"y":9.2},{"g":"Type M","x":9.3,"y":9.2},{"g":"Type M","x":9.7,"y":8.85},{"g":"Type M","x":10.1,"y":8.3},{"g":"Type M","x":9.3,"y":7.55},{"g":"Type M","x":9.7,"y":7.2},{"g":"Type M","x":10.5,"y":7.0},{"g":"Type M","x":10.9,"y":6.4},{"g":"Type M","x":11.3,"y":6.2},{"g":"Type M","x":11.7,"y":6.6},{"g":"Type M","x":11.9,"y":6.05},{"g":"Type M","x":11.3,"y":8.5},{"g":"Type M","x":11.7,"y":8.1},{"g":"Type M","x":12.1,"y":9.05},{"g":"Type M","x":12.9,"y":10.7},{"g":"Type M","x":13.5,"y":11.1},{"g":"Type M","x":12.5,"y":9.8},{"g":"Type M","x":12.9,"y":9.6},{"g":"Type M","x":14.5,"y":10.35},{"g":"Type M","x":14.9,"y":10.0},{"g":"Type M","x":15.7,"y":10.9},{"g":"Type M","x":14.5,"y":9.6},{"g":"Type M","x":15.1,"y":9.2},{"g":"Type M","x":15.7,"y":8.85},{"g":"Type M","x":16.1,"y":8.5},{"g":"Type M","x":16.5,"y":8.7},{"g":"Type M","x":16.9,"y":8.1},{"g":"Type M","x":17.3,"y":9.4},{"g":"Type M","x":17.7,"y":10.0},{"g":"Type M","x":18.5,"y":9.6},{"g":"Type M","x":18.9,"y":9.2},{"g":"Type M","x":14.5,"y":7.35},{"g":"Type M","x":14.1,"y":6.6},{"g":"Type M","x":14.5,"y":6.2},{"g":"Type M","x":14.1,"y":5.5},{"g":"Type M","x":14.1,"y":4.75},{"g":"Type M","x":14.5,"y":4.2},{"g":"Type M","x":14.5,"y":3.6},{"g":"Type M","x":14.9,"y":3.4},{"g":"Type M","x":14.1,"y":2.5},{"g":"Type M","x":14.5,"y":1.9},{"g":"Type M","x":16.5,"y":7.2},{"g":"Type M","x":16.9,"y":6.6},{"g":"Type M","x":16.3,"y":6.2},{"g":"Type M","x":16.1,"y":5.9},{"g":"Type M","x":16.5,"y":5.5},{"g":"Type M","x":16.3,"y":4.55},{"g":"Type M","x":16.5,"y":4.2},{"g":"Type M","x":16.1,"y":3.6},{"g":"Type M","x":16.7,"y":3.4},{"g":"Type M","x":17.3,"y":2.3},{"g":"Type M","x":17.7,"y":2.1},{"g":"Type M","x":18.5,"y":2.3},{"g":"Type M","x":19.3,"y":2.1},{"g":"Type M","x":20.1,"y":2.5},{"g":"Type M","x":18.1,"y":1.75},{"g":"Type M","x":16.9,"y":1.9},{"g":"Type M","x":19.3,"y":4.75},{"g":"Type M","x":19.7,"y":4.55},{"g":"Type M","x":20.1,"y":4.0},{"g":"Type M","x":18.9,"y":6.4},{"g":"Type M","x":20.5,"y":7.35},{"g":"Type M","x":20.9,"y":6.8},{"g":"Type M","x":20.1,"y":3.2},{"g":"Type M","x":19.9,"y":2.9},{"g":"Type M","x":20.5,"y":9.6},{"g":"Type M","x":20.9,"y":9.8},{"g":"Type M","x":21.7,"y":8.85},{"g":"Type M","x":22.1,"y":8.7},{"g":"Type M","x":22.5,"y":8.3},{"g":"Type M","x":21.3,"y":8.1},{"g":"Type M","x":21.9,"y":7.9},{"g":"Type M","x":22.1,"y":7.55},{"g":"Type M","x":22.9,"y":8.7},{"g":"Type M","x":23.7,"y":8.5},{"g":"Type M","x":24.1,"y":8.1},{"g":"Type M","x":24.5,"y":8.85},{"g":"Type M","x":24.9,"y":9.2},{"g":"Type M","x":21.3,"y":7.0},{"g":"Type M","x":22.1,"y":6.6},{"g":"Type M","x":21.7,"y":6.2},{"g":"Type M","x":21.3,"y":5.9},{"g":"Type M","x":22.9,"y":7.0},{"g":"Type M","x":23.3,"y":6.4},{"g":"Type M","x":23.7,"y":6.05},{"g":"Type M","x":24.9,"y":7.7},{"g":"Type M","x":25.3,"y":7.35},{"g":"Type M","x":25.7,"y":7.0},{"g":"Type M","x":26.1,"y":6.6},{"g":"Type M","x":26.5,"y":8.1},{"g":"Type M","x":26.9,"y":7.7},{"g":"Type M","x":27.7,"y":7.55},{"g":"Type M","x":28.1,"y":7.2},{"g":"Type M","x":28.9,"y":7.35},{"g":"Type M","x":28.5,"y":6.8},{"g":"Type M","x":29.3,"y":6.6},{"g":"Type M","x":29.7,"y":7.0},{"g":"Type M","x":30.1,"y":6.4},{"g":"Type M","x":30.5,"y":6.2},{"g":"Type M","x":26.9,"y":6.6},{"g":"Type M","x":27.3,"y":6.2},{"g":"Type M","x":28.1,"y":6.05},{"g":"Type M","x":28.9,"y":5.9},{"g":"Type M","x":29.3,"y":5.5},{"g":"Type M","x":30.1,"y":5.3},{"g":"Type M","x":30.9,"y":5.1},{"g":"Type M","x":31.3,"y":5.7},{"g":"Type M","x":26.9,"y":5.5},{"g":"Type M","x":27.7,"y":4.9},{"g":"Type M","x":28.5,"y":4.35},{"g":"Type M","x":25.3,"y":4.9},{"g":"Type M","x":25.7,"y":4.55},{"g":"Type M","x":26.1,"y":4.35},{"g":"Type M","x":24.1,"y":4.75},{"g":"Type M","x":24.5,"y":4.2},{"g":"Type M","x":24.9,"y":3.8},{"g":"Type M","x":22.9,"y":4.55},{"g":"Type M","x":23.3,"y":4.2},{"g":"Type M","x":23.7,"y":3.8},{"g":"Type M","x":21.7,"y":5.1},{"g":"Type M","x":22.1,"y":4.35},{"g":"Type M","x":21.3,"y":3.8},{"g":"Type M","x":21.7,"y":3.2},{"g":"Type M","x":22.5,"y":3.05},{"g":"Type M","x":23.3,"y":2.9},{"g":"Type M","x":24.5,"y":3.2},{"g":"Type M","x":25.3,"y":2.9},{"g":"Type M","x":26.1,"y":3.4},{"g":"Type M","x":24.9,"y":2.3},{"g":"Type M","x":22.1,"y":1.75},{"g":"Type M","x":21.3,"y":1.55},{"g":"Type M","x":23.1,"y":1.45},{"g":"Type M","x":27.3,"y":4.0},{"g":"Type M","x":27.7,"y":3.6},{"g":"Type M","x":29.3,"y":4.35},{"g":"Type M","x":29.7,"y":4.0},{"g":"Type M","x":30.5,"y":7.35},{"g":"Type M","x":30.9,"y":7.55},{"g":"Type M","x":31.3,"y":5.3}
  ]
},
"spacing": 81,
"bounds": "flush",
"hconcat": [
  {
    "width": 335, "height": 445,
    "layer": [
      {"data": {"name": "left"},
       "mark": {"type": "point", "shape": "M-1,-1L1,1M-1,1L1,-1", "color": "#808080", "strokeWidth": 1, "size": 42, "filled": false, "opacity": 1},
       "encoding": {
         "x": {"field": "x", "type": "quantitative", "scale": {"domain": [-5, 35], "nice": false, "zero": false},
               "axis": {"values": [-5,0,5,10,15,20,25,30,35], "labelExpr": "'' + datum.value", "title": "Daily mean outdoor temperature (°C)"}},
         "y": {"field": "y", "type": "quantitative", "scale": {"domain": [0, 25], "nice": false, "zero": false},
               "axis": {"values": [0,5,10,15,20,25], "title": "δθₒᵤₜ(K)", "titlePadding": 12, "labelPadding": 6}}
       }},
      {"data": {"name": "ellL"},
       "mark": {"type": "line", "color": "black", "strokeWidth": 1.6, "interpolate": "cardinal-closed"},
       "encoding": {
         "x": {"field": "x", "type": "quantitative"},
         "y": {"field": "y", "type": "quantitative"},
         "order": {"field": "i", "type": "quantitative"}
       }}
    ]
  },
  {
    "width": 333, "height": 445,
    "layer": [
      {"data": {"name": "right"},
       "mark": {"type": "point", "strokeWidth": 1, "size": 40, "opacity": 1},
       "encoding": {
         "x": {"field": "x", "type": "quantitative", "scale": {"domain": [-5, 35], "nice": false, "zero": false},
               "axis": {"values": [-5,0,5,10,15,20,25,30,35], "labelExpr": "'' + datum.value", "title": "Daily mean outdoor temperature (°C)"}},
         "y": {"field": "y", "type": "quantitative", "scale": {"domain": [0, 25], "nice": false, "zero": false},
               "axis": {"values": [0,5,10,15,20,25], "title": "δθᵢₙ (K)", "titlePadding": 2, "labelPadding": 8}},
         "shape": {"field": "g", "type": "nominal", "scale": {"domain": ["Type I", "Type WM", "Type M"], "range": ["M-1,-1L1,1M-1,1L1,-1", "circle", "square"]}, "legend": {"title": null}},
         "fill": {"field": "g", "type": "nominal", "scale": {"domain": ["Type I", "Type WM", "Type M"], "range": ["transparent", "transparent", "black"]}, "legend": {"title": null}},
         "stroke": {"field": "g", "type": "nominal", "scale": {"domain": ["Type I", "Type WM", "Type M"], "range": ["#808080", "#555555", "black"]}, "legend": {"title": null}}
       }},
      {"data": {"name": "eI"},
       "mark": {"type": "line", "color": "black", "strokeWidth": 1.3, "interpolate": "cardinal-closed"},
       "encoding": {"x": {"field": "x", "type": "quantitative"}, "y": {"field": "y", "type": "quantitative"}, "order": {"field": "i", "type": "quantitative"}}},
      {"data": {"name": "eWM"},
       "mark": {"type": "line", "color": "black", "strokeWidth": 3.2, "interpolate": "cardinal-closed"},
       "encoding": {"x": {"field": "x", "type": "quantitative"}, "y": {"field": "y", "type": "quantitative"}, "order": {"field": "i", "type": "quantitative"}}},
      {"data": {"name": "eM"},
       "mark": {"type": "line", "color": "black", "strokeWidth": 2.6, "interpolate": "cardinal-closed"},
       "encoding": {"x": {"field": "x", "type": "quantitative"}, "y": {"field": "y", "type": "quantitative"}, "order": {"field": "i", "type": "quantitative"}}},
      {"data": {"name": "leaders"},
       "mark": {"type": "rule", "color": "black", "strokeWidth": 1},
       "encoding": {"x": {"field": "x", "type": "quantitative"}, "y": {"field": "y", "type": "quantitative"}, "x2": {"field": "ex"}, "y2": {"field": "ey"}}},
      {"data": {"name": "leaders"},
       "mark": {"type": "point", "shape": "circle", "filled": true, "color": "black", "size": 22, "opacity": 1},
       "encoding": {"x": {"field": "ex", "type": "quantitative"}, "y": {"field": "ey", "type": "quantitative"}}},
      {"data": {"name": "boxes"},
       "mark": {"type": "rect", "fill": "white", "stroke": "#444444", "strokeWidth": 1},
       "encoding": {"x": {"field": "x1", "type": "quantitative"}, "x2": {"field": "x2"}, "y": {"field": "y1", "type": "quantitative"}, "y2": {"field": "y2"}}},
      {"data": {"name": "boxes"},
       "mark": {"type": "text", "font": "Liberation Serif", "fontSize": 19, "color": "black", "align": "center", "baseline": "middle"},
       "encoding": {"x": {"field": "cx", "type": "quantitative"}, "y": {"field": "cy", "type": "quantitative"}, "text": {"field": "lab"}}}
    ]
  }
]
}
